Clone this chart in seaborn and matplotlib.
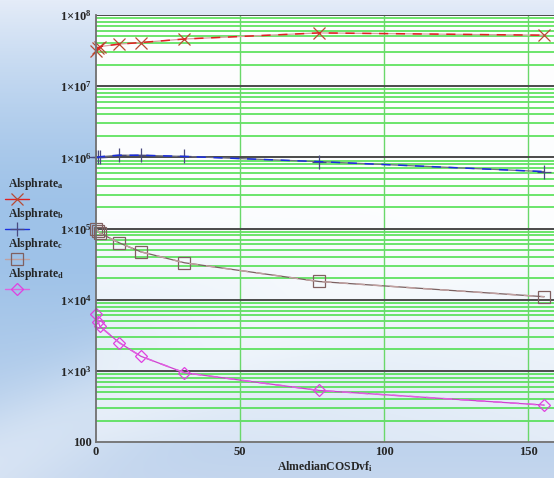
import numpy as np
import pandas as pd
import matplotlib
matplotlib.use("Agg")
import matplotlib.pyplot as plt
import seaborn as sns
from matplotlib.lines import Line2D
from matplotlib.ticker import FixedLocator, NullFormatter

# data
x_vals = [0, 0.7, 1.4, 8, 15.6, 30.7, 77.4, 155.6]
rate_a = [3.1e7, 3.4e7, 3.6e7, 3.9e7, 4.1e7, 4.6e7, 5.6e7, 5.2e7]
rate_b = [1.0e6, 1.0e6, 1.02e6, 1.07e6, 1.07e6, 1.03e6, 8.7e5, 6.3e5]
rate_c = [1.0e5, 9.3e4, 8.6e4, 6.3e4, 4.7e4, 3.3e4, 1.8e4, 1.1e4]
rate_d = [6.2e3, 4.9e3, 4.2e3, 2.5e3, 1.6e3, 9.4e2, 5.3e2, 3.3e2]
series_names = ["a", "b", "c", "d"]
x_ticks = [0, 50, 100, 150]
y_decades = [2, 3, 4, 5, 6, 7, 8]

sns.set_style("white")
plt.rcParams["font.family"] = ["Liberation Serif", "DejaVu Serif"]
plt.rcParams["font.weight"] = "bold"
plt.rcParams["mathtext.fontset"] = "custom"
plt.rcParams["mathtext.rm"] = "Liberation Serif"
plt.rcParams["mathtext.bf"] = "Liberation Serif:bold"
plt.rcParams["mathtext.it"] = "Liberation Serif:italic"

W, H = 554, 478
fig = plt.figure(figsize=(W / 100, H / 100), dpi=100)

# sky-like background
yy, xx = np.mgrid[0:H, 0:W]
ty = yy / H
tx = xx / W
top = np.array([228, 236, 248.0])
mid = np.array([158, 194, 232.0])
bot = np.array([196, 214, 238.0])
w_top = np.clip(1 - ty / 0.45, 0, 1) ** 1.5
w_bot = np.clip((ty - 0.55) / 0.45, 0, 1)
w_mid = 1 - w_top - w_bot
sky = (w_top[..., None] * top + w_mid[..., None] * mid + w_bot[..., None] * bot)
# diagonal haze band
band = np.exp(-((ty - 0.95 + 0.55 * tx) / 0.12) ** 2) * 0.35
sky = sky + band[..., None] * (255 - sky)
# whiter plot area
x0p, x1p, y0p, y1p = 96, W, 15, 442
inside = (xx >= x0p) & (yy >= y0p) & (yy <= y1p)
depth = np.clip((yy - 200) / 242, 0, 1)
alpha = 0.97 - 0.65 * depth ** 1.3 + 0.25 * tx * depth
alpha = np.clip(alpha, 0, 1)
sky = np.where(inside[..., None], sky + alpha[..., None] * (255 - sky), sky)
fig.figimage(np.clip(sky, 0, 255).astype(np.uint8), xo=0, yo=0, origin="upper", zorder=-10)

ax = fig.add_axes([96 / W, (H - 442) / H, (W - 96) / W, (442 - 15) / H])
ax.set_facecolor("none")
ax.set_yscale("log")
ax.set_xlim(0, 159)
ax.set_ylim(100, 1e8)

# grid
minors = [m * 10 ** d for d in y_decades[:-1] for m in range(2, 10)]
for v in minors:
    ax.axhline(v, color="#44de44", lw=1.1, zorder=1)
for d in y_decades[1:]:
    ax.axhline(10 ** d, color="#4a4a4a", lw=1.4, zorder=1.5)
for xt in x_ticks[1:]:
    ax.axvline(xt, color="#6ad86a", lw=1.0, zorder=1)

df = pd.DataFrame({"x": x_vals, "a": rate_a, "b": rate_b, "c": rate_c, "d": rate_d})

styles = {
    "a": dict(base="#d8a0a0", dash="#e02020", marker="x", mc="#b84a34", ms=8.5),
    "b": dict(base="#707080", dash="#1a2ee0", marker="+", mc="#4a4a80", ms=9.5),
    "c": dict(base="#7a6060", dash="#c0a0a0", marker="s", mc="#806060", ms=8),
    "d": dict(base="#d040d0", dash="#e060e0", marker="D", mc="#e040e0", ms=6),
}

for name in series_names:
    s = styles[name]
    sns.lineplot(data=df, x="x", y=name, ax=ax, color=s["base"], lw=0.9,
                 marker=s["marker"], markersize=s["ms"], markeredgecolor=s["mc"],
                 markerfacecolor="none", markeredgewidth=0.9, zorder=3,
                 estimator=None, sort=False, clip_on=False)
    sns.lineplot(data=df, x="x", y=name, ax=ax, color=s["dash"], lw=1.1,
                 dashes=(6, 5), zorder=3.5, estimator=None, sort=False)

for sp in ["top", "right"]:
    ax.spines[sp].set_visible(False)
for sp in ["left", "bottom"]:
    ax.spines[sp].set_color("#707070")
    ax.spines[sp].set_linewidth(1.3)
    ax.spines[sp].set_zorder(4)

ax.yaxis.set_major_locator(FixedLocator([10 ** d for d in y_decades]))
ax.yaxis.set_minor_locator(FixedLocator(minors))
ax.yaxis.set_minor_formatter(NullFormatter())
ylabels = ["100"] + [r"$\mathbf{1{\times}10^{%d}}$" % d for d in y_decades[1:]]
ax.set_yticklabels(ylabels)
ax.set_xticks(x_ticks)
ax.set_xticklabels([str(t) for t in x_ticks])
ax.tick_params(axis="both", which="major", labelsize=9, length=2, color="#707070", pad=1)
ax.tick_params(axis="y", which="minor", length=0)
for lab in ax.get_xticklabels() + ax.get_yticklabels():
    lab.set_fontweight("bold")

ax.set_xlabel(r"$\mathbf{AlmedianCOSDvf}_{\mathrm{i}}$", fontsize=8.5, labelpad=1)
ax.set_ylabel("")

# legend at the left
leg_y = [184, 214, 244, 274]
for name, ly in zip(series_names, leg_y):
    s = styles[name]
    fig.text(8 / W, 1 - ly / H, r"$\mathbf{Alsphrate}_{\mathrm{%s}}$" % name,
             fontsize=8.5, va="center", ha="left")
    yl = 1 - (ly + 15) / H
    fig.add_artist(Line2D([5 / W, 29 / W], [yl, yl], transform=fig.transFigure,
                          color=s["dash"], lw=1.0))
    fig.add_artist(Line2D([17 / W], [yl], transform=fig.transFigure, marker=s["marker"],
                          markersize=s["ms"], markeredgecolor=s["mc"], markerfacecolor="none",
                          markeredgewidth=0.9, lw=0))

fig.savefig("out.png", dpi=100)
